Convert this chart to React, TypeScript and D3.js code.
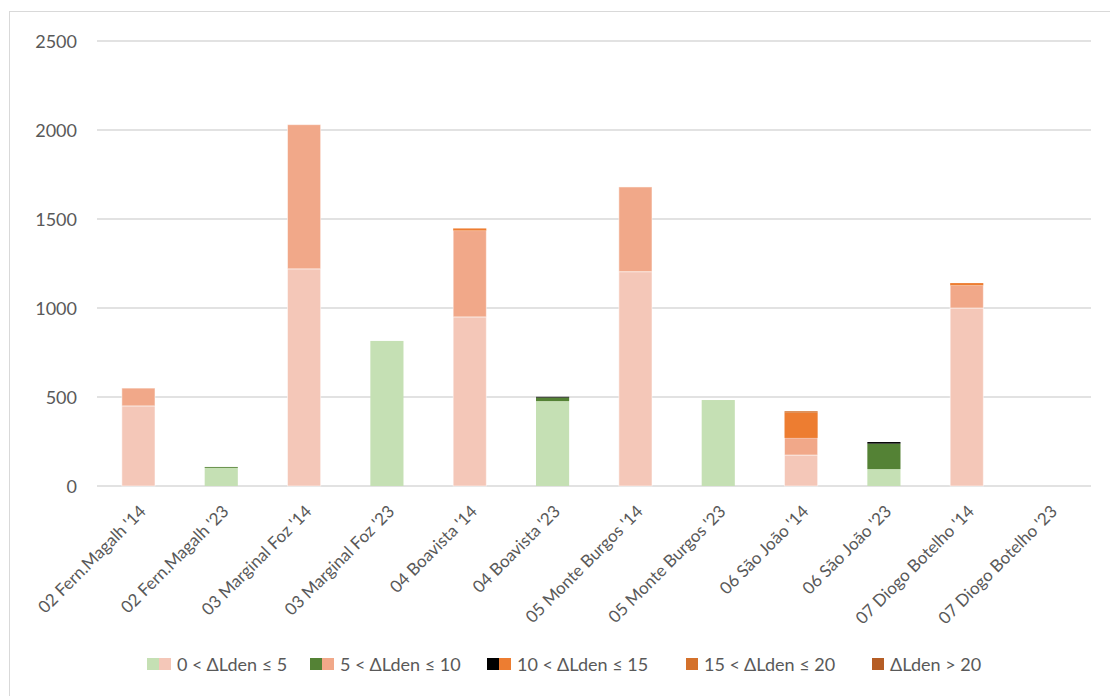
import React from "react";
import * as d3 from "d3";

const categories = [
  "02 Fern.Magalh '14",
  "02 Fern.Magalh '23",
  "03 Marginal Foz '14",
  "03 Marginal Foz '23",
  "04 Boavista '14",
  "04 Boavista '23",
  "05 Monte Burgos '14",
  "05 Monte Burgos '23",
  "06 São João '14",
  "06 São João '23",
  "07 Diogo Botelho '14",
  "07 Diogo Botelho '23",
];

const band0to5 = [450, 102, 1220, 815, 950, 477, 1204, 483, 174, 95, 1000, 0];
const band5to10 = [100, 5, 810, 0, 485, 20, 476, 0, 96, 143, 127, 0];
const band10to15 = [0, 0, 0, 0, 12, 4, 0, 0, 142, 9, 13, 0];
const band15to20 = [0, 0, 0, 0, 0, 0, 0, 0, 8, 0, 0, 0];
const bandOver20 = [0, 0, 0, 0, 0, 0, 0, 0, 0, 0, 0, 0];

const yTicks = [0, 500, 1000, 1500, 2000, 2500];

const bandLabels = [
  "0 < ΔLden ≤ 5",
  "5 < ΔLden ≤ 10",
  "10 < ΔLden ≤ 15",
  "15 < ΔLden ≤ 20",
  "ΔLden > 20",
];

// colours for '23 and '14 categories per band
const colors23 = ["#C5E0B4", "#548235", "#000000", "#D4712B", "#B55D25"];
const colors14 = ["#F4C7B8", "#F1A889", "#ED7D31", "#D4712B", "#B55D25"];

const FONT = "Lato, 'Open Sans', sans-serif";

export default function App() {
  const W = 1110;
  const H = 696;
  const x = d3
    .scaleBand<string>()
    .domain(categories)
    .range([97, 1091])
    .paddingInner(0.6)
    .paddingOuter(0.3);
  const y = d3.scaleLinear().domain([0, 2500]).range([486, 41]);

  const bands = [band0to5, band5to10, band10to15, band15to20, bandOver20];
  const rows = categories.map((c, i) => {
    const r: any = { cat: c };
    bands.forEach((b, k) => (r["b" + k] = b[i]));
    return r;
  });
  const stack = d3.stack<any>().keys(bands.map((_, k) => "b" + k));
  const series = stack(rows);

  const isOld = (c: string) => c.endsWith("'14");

  const legendItems = [
    { x: 147, sw: [colors23[0], colors14[0]], label: bandLabels[0] },
    { x: 310, sw: [colors23[1], colors14[1]], label: bandLabels[1] },
    { x: 487, sw: [colors23[2], colors14[2]], label: bandLabels[2] },
    { x: 686, sw: [colors14[3]], label: bandLabels[3] },
    { x: 872, sw: [colors14[4]], label: bandLabels[4] },
  ];

  return (
    <div style={{ position: "fixed", left: 0, top: 0 }}>
      <svg width={W} height={H} style={{ display: "block", background: "#fff" }}>
        <rect x={9.5} y={11.5} width={W + 10} height={H + 10} fill="#fff" stroke="#D9D9D9" strokeWidth={1} />
        {yTicks.map((t) => (
          <g key={t}>
            <line x1={97} x2={1091} y1={y(t)} y2={y(t)} stroke="#D9D9D9" strokeWidth={1.3} />
            <text
              x={77}
              y={y(t)}
              textAnchor="end"
              dominantBaseline="central"
              fontFamily={FONT}
              fontSize={18}
              fill="#595959"
            >
              {t}
            </text>
          </g>
        ))}
        {series.map((s, k) => (
          <g key={k}>
            {s.map((d, i) => {
              const c = categories[i];
              const v = d[1] - d[0];
              if (v <= 0) return null;
              const fill = isOld(c) ? colors14[k] : colors23[k];
              return (
                <rect
                  key={i}
                  x={x(c)!}
                  y={y(d[1])}
                  width={x.bandwidth()}
                  height={y(d[0]) - y(d[1])}
                  fill={fill}
                  stroke={isOld(c) && k < 2 ? "rgba(255,255,255,0.5)" : "none"}
                  strokeWidth={1}
                />
              );
            })}
          </g>
        ))}
        {categories.map((c) => {
          const cx = x(c)! + x.bandwidth() / 2 + 4;
          const cy = 508;
          return (
            <text
              key={c}
              x={cx}
              y={cy}
              transform={`rotate(-45 ${cx} ${cy})`}
              textAnchor="end"
              dominantBaseline="central"
              fontFamily={FONT}
              fontSize={17}
              fill="#595959"
            >
              {c}
            </text>
          );
        })}
        {legendItems.map((it, i) => (
          <g key={i}>
            {it.sw.map((col, j) => (
              <rect key={j} x={it.x + j * 12} y={658} width={12} height={12} fill={col} />
            ))}
            <text
              x={it.x + it.sw.length * 12 + 6}
              y={664}
              dominantBaseline="central"
              fontFamily={FONT}
              fontSize={18}
              fill="#595959"
            >
              {it.label}
            </text>
          </g>
        ))}
      </svg>
    </div>
  );
}
